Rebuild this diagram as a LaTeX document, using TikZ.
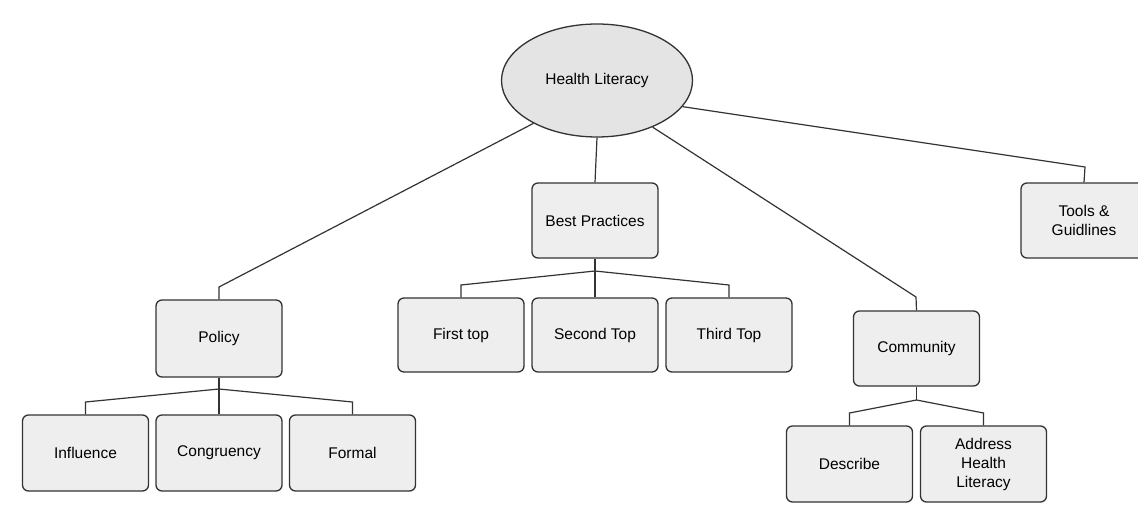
\documentclass[tikz,border=0pt]{standalone}
\usepackage{fontspec}
\setmainfont{Liberation Sans}
\usetikzlibrary{shapes.geometric}
\definecolor{boxfill}{HTML}{EEEEEE}
\definecolor{ellfill}{HTML}{E4E4E4}
\definecolor{edge}{HTML}{333333}
\tikzset{
  box/.style={draw=edge, fill=boxfill, line width=1.3pt, rounded corners=6pt,
    minimum width=126pt, minimum height=75pt, inner sep=0pt, align=center,
    font=\fontsize{15.5}{19}\selectfont},
  conn/.style={draw=edge, line width=1.2pt}
}
\begin{document}
\begin{tikzpicture}[x=1pt,y=-1pt]
\clip (0,0) rectangle (1138,508);
\fill[white] (0,0) rectangle (1138,508);
\node[ellipse, draw=edge, fill=ellfill, line width=1.3pt, minimum width=191pt, minimum height=113pt, inner sep=0pt, font=\fontsize{15.5}{19}\selectfont] (hl) at (597,80.5) {Health Literacy};

\node[box, minimum height=77pt] (policy) at (219,338.5) {Policy};
\node[box] (bp) at (595,220.5) {Best Practices};
\node[box] (comm) at (916.5,348.5) {Community};
\node[box] (tools) at (1084,220.5) {Tools \&\\Guidlines};

\node[box, minimum height=74pt] (first) at (461,335) {First top};
\node[box, minimum height=74pt] (second) at (595,335) {Second Top};
\node[box, minimum height=74pt] (third) at (729,335) {Third Top};

\node[box, minimum height=76pt] (infl) at (85.5,453) {Influence};
\node[box, minimum height=76pt] (cong) at (219,453) {Congruency};
\node[box, minimum height=76pt] (formal) at (352.5,453) {Formal};

\node[box, minimum height=76pt] (desc) at (849.5,464) {Describe};
\node[box, minimum height=76pt] (addr) at (983.5,464) {Address\\Health\\Literacy};

% top-level connectors
\coordinate (kp) at (219,287);
\coordinate (kc) at (916,297);
\coordinate (kt) at (1085,167);
\draw[conn] (hl.214.4) -- (kp) -- (policy.north);
\draw[conn] (hl.270) -- (bp.north);
\draw[conn] (hl.320.3) -- (kc) -- (comm.north);
\draw[conn] (hl.343.2) -- (kt) -- (tools.north);

% best practices children
\coordinate (bj) at (595,271);
\coordinate (b1) at (461,285);
\coordinate (b3) at (729,285);
\draw[conn] (bp.south) -- (bj) -- (second.north);
\draw[conn] (bj) -- (b1) -- (first.north);
\draw[conn] (bj) -- (b3) -- (third.north);

% policy children
\coordinate (pj) at (219,389);
\coordinate (p1) at (85.5,402);
\coordinate (p3) at (352.5,402);
\draw[conn] (policy.south) -- (pj) -- (cong.north);
\draw[conn] (pj) -- (p1) -- (infl.north);
\draw[conn] (pj) -- (p3) -- (formal.north);

% community children
\coordinate (cj) at (916.5,400);
\coordinate (c1) at (849.5,413);
\coordinate (c2) at (983.5,413);
\draw[conn] (comm.south) -- (cj);
\draw[conn] (cj) -- (c1) -- (desc.north);
\draw[conn] (cj) -- (c2) -- (addr.north);
\end{tikzpicture}
\end{document}
